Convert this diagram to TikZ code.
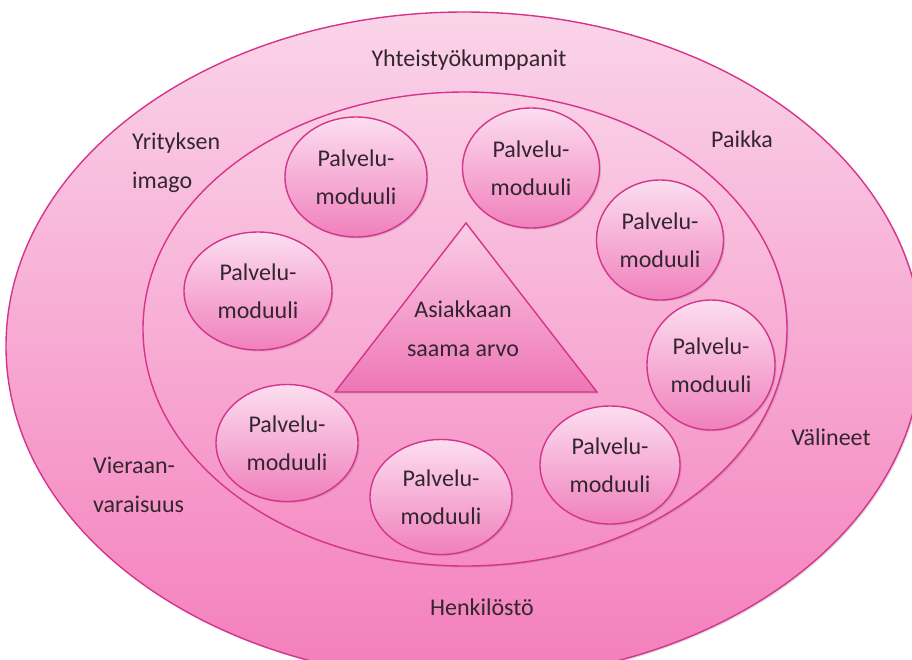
\documentclass[tikz,border=0pt]{standalone}
\usepackage{fontspec}
\setmainfont{Carlito}
\usetikzlibrary{shapes.geometric,shadows}
\definecolor{edgec}{RGB}{214,52,140}
\definecolor{txtc}{RGB}{52,38,48}
\definecolor{ringT}{RGB}{250,212,233}
\definecolor{ringB}{RGB}{244,126,187}
\definecolor{innT}{RGB}{250,208,230}
\definecolor{innB}{RGB}{245,140,195}
\definecolor{modT}{RGB}{252,222,240}
\definecolor{modB}{RGB}{240,128,188}
\definecolor{triT}{RGB}{251,206,230}
\definecolor{triB}{RGB}{238,118,182}
\tikzset{
  ring/.style={ellipse, draw=edgec, line width=1.4pt, inner sep=0pt},
  softshadow/.style={drop shadow={shadow xshift=1.5pt, shadow yshift=-1.5pt, opacity=0.22, fill=black!60}},
  modbox/.style={ellipse, draw=edgec, line width=1.4pt, inner sep=0pt,
    top color=modT, bottom color=modB, softshadow,
    font=\fontsize{24}{38}\selectfont, text=txtc, align=center},
  lbl/.style={inner sep=0pt, font=\fontsize{24}{39}\selectfont, text=txtc},
}
\begin{document}
\begin{tikzpicture}[x=1pt,y=-1pt]
\useasboundingbox (0,0) rectangle (912,659);
\clip (0,0) rectangle (912,659);
\fill[white] (0,0) rectangle (912,659);
% outer and inner rings
\node[ring, top color=ringT, bottom color=ringB, softshadow,
      minimum width=916pt, minimum height=668pt] (outer) at (464,346) {};
\node[ring, top color=innT, bottom color=innB, softshadow,
      minimum width=644pt, minimum height=474pt] (inner) at (465,329) {};
% central triangle
\coordinate (tA) at (466,223);
\coordinate (tB) at (597,392);
\coordinate (tC) at (335,392);
\path[draw=edgec, line width=1.4pt, top color=triT, bottom color=triB, softshadow]
  (tA) -- (tB) -- (tC) -- cycle;
\node[lbl, align=center] (value) at (463,329) {Asiakkaan\\saama arvo};
% service modules
\node[modbox, minimum width=142pt, minimum height=120pt] (m1) at (356,177) {Palvelu-\\moduuli};
\node[modbox, minimum width=137pt, minimum height=120pt] (m2) at (531,168) {Palvelu-\\moduuli};
\node[modbox, minimum width=127pt, minimum height=120pt] (m3) at (660,240) {Palvelu-\\moduuli};
\node[modbox, minimum width=148pt, minimum height=118pt] (m4) at (258,291) {Palvelu-\\moduuli};
\node[modbox, minimum width=128pt, minimum height=130pt] (m5) at (711,365) {Palvelu-\\moduuli};
\node[modbox, minimum width=142pt, minimum height=117pt] (m6) at (287,443) {Palvelu-\\moduuli};
\node[modbox, minimum width=142pt, minimum height=115pt] (m7) at (441,497) {Palvelu-\\moduuli};
\node[modbox, minimum width=140pt, minimum height=118pt] (m8) at (610,465) {Palvelu-\\moduuli};
% ring labels
\node[lbl] (partners) at (469,60) {Yhteistyökumppanit};
\node[lbl] (place) at (742,139) {Paikka};
\node[lbl] (tools) at (831,437) {Välineet};
\node[lbl] (staff) at (482,607) {Henkilöstö};
\node[lbl, align=left, anchor=west] (image) at (132,163) {Yrityksen\\imago};
\node[lbl, align=left, anchor=west] (hosp) at (93,485) {Vieraan-\\varaisuus};
\end{tikzpicture}
\end{document}
